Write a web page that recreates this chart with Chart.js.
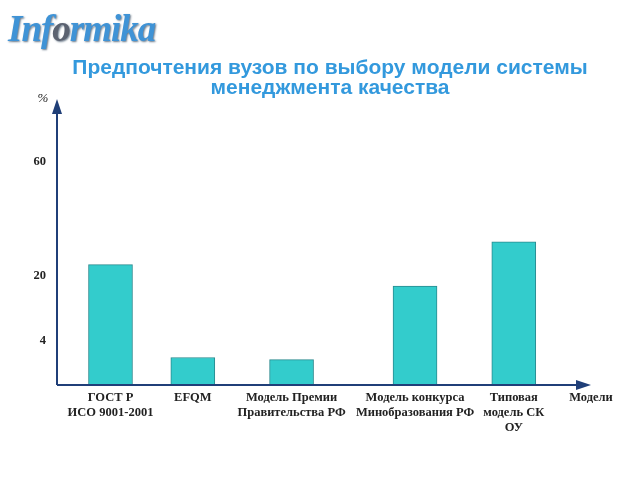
<!DOCTYPE html>
<html>
<head>
<meta charset="utf-8">
<script src="https://cdn.jsdelivr.net/npm/chart.js@4/dist/chart.umd.min.js"></script>
<style>
  body { margin: 0; background: #fff; }
  #wrap { position: relative; width: 640px; height: 480px; }
  #logo {
    position: absolute; left: 8px; top: 7px;
    font: italic bold 37px "Liberation Serif", serif;
    color: #3f93d6; letter-spacing: -1px;
    text-shadow: 1px 1px 2px #6a7a8a;
  }
  #logo span { color: #5b6270; }
  #title {
    position: absolute; left: 0; top: 57px; width: 660px; text-align: center;
    font: bold 21px "Liberation Sans", Arial, sans-serif; line-height: 20px;
    color: #3399dd;
  }
</style>
</head>
<body>
<div id="wrap">
  <div id="logo">Inf<span>o</span>rmika</div>
  <div id="title">Предпочтения вузов по выбору модели системы<br>менеджмента качества</div>
  <canvas id="myChart" width="640" height="480"></canvas>
</div>
<script>
// модели и доли вузов (%)
const categories = [
    ['ГОСТ Р', 'ИСО 9001-2001'],
    ['EFQM'],
    ['Модель Премии', 'Правительства РФ'],
    ['Модель конкурса', 'Минобразования РФ'],
    ['Типовая', 'модель СК', 'ОУ']
];
const values = [24, 2.5, 2.3, 17.5, 32];
const yTicks = [4, 20, 60];

// ось Y в исходнике не линейная: деления 4, 20, 60 стоят на своих местах
const yBreakValues = [0, 4, 20, 60, 82];
const yBreakFractions = [0, 0.154, 0.381, 0.781, 1];

// места столбцов на оси X (слоты категорий, расставлены неравномерно)
const slotCount = 66;
const slotOf = [6, 16, 28, 43, 55];

class PiecewiseScale extends Chart.LinearScale {
    getPixelForValue(value) {
        let f = 0;
        for (let i = 1; i < yBreakValues.length; i++) {
            if (value <= yBreakValues[i] || i === yBreakValues.length - 1) {
                const a = yBreakValues[i - 1], b = yBreakValues[i];
                f = yBreakFractions[i - 1] + (value - a) / (b - a) * (yBreakFractions[i] - yBreakFractions[i - 1]);
                break;
            }
        }
        return this.getPixelForDecimal(f);
    }
    getValueForPixel(pixel) {
        const f = this.getDecimalForPixel(pixel);
        for (let i = 1; i < yBreakFractions.length; i++) {
            if (f <= yBreakFractions[i] || i === yBreakFractions.length - 1) {
                const a = yBreakFractions[i - 1], b = yBreakFractions[i];
                return yBreakValues[i - 1] + (f - a) / (b - a) * (yBreakValues[i] - yBreakValues[i - 1]);
            }
        }
    }
}
PiecewiseScale.id = 'piecewise';
PiecewiseScale.defaults = Chart.LinearScale.defaults;
Chart.register(PiecewiseScale);

const labels = [];
const data = [];
for (let i = 0; i < slotCount; i++) {
    const k = slotOf.indexOf(i);
    labels.push(k >= 0 ? categories[k] : '');
    data.push(k >= 0 ? values[k] : null);
}

const axisColor = '#203f78';

const axesPlugin = {
    id: 'axes',
    afterDraw(chart) {
        const ctx = chart.ctx;
        const a = chart.chartArea;
        const x0 = a.left, y0 = a.bottom;
        const xEnd = 591;
        ctx.save();
        ctx.strokeStyle = axisColor;
        ctx.fillStyle = axisColor;
        ctx.lineWidth = 2;
        ctx.beginPath();
        ctx.moveTo(x0, y0);
        ctx.lineTo(x0, a.top + 12);
        ctx.moveTo(x0, y0);
        ctx.lineTo(xEnd - 12, y0);
        ctx.stroke();
        // стрелки
        ctx.beginPath();
        ctx.moveTo(x0, a.top);
        ctx.lineTo(x0 - 5, a.top + 15);
        ctx.lineTo(x0 + 5, a.top + 15);
        ctx.closePath();
        ctx.fill();
        ctx.beginPath();
        ctx.moveTo(xEnd, y0);
        ctx.lineTo(xEnd - 15, y0 - 5);
        ctx.lineTo(xEnd - 15, y0 + 5);
        ctx.closePath();
        ctx.fill();
        // подписи осей
        ctx.fillStyle = '#222';
        ctx.textAlign = 'center';
        ctx.textBaseline = 'middle';
        ctx.font = 'italic 13px "Liberation Serif", serif';
        ctx.fillText('%', x0 - 14, a.top);
        ctx.font = 'bold 12.5px "Liberation Serif", serif';
        ctx.fillText('Модели', xEnd, y0 + 13);
        ctx.restore();
    }
};

const config = {
    type: 'bar',
    data: {
        labels: labels,
        datasets: [{
            data: data,
            backgroundColor: '#33cccc',
            borderColor: '#2a8a8f',
            borderWidth: 1,
            barThickness: 44,
        }]
    },
    options: {
        responsive: false,
        animation: false,
        layout: { padding: { top: 99, right: 39.8, left: 0, bottom: 0 } },
        plugins: {
            legend: { display: false },
            tooltip: { enabled: false },
        },
        scales: {
            x: {
                grid: { display: false, drawTicks: false },
                border: { display: false },
                afterFit: s => { s.height = 95; },
                ticks: {
                    autoSkip: false,
                    maxRotation: 0,
                    minRotation: 0,
                    padding: 5,
                    color: '#222',
                    font: { family: '"Liberation Serif", serif', size: 12.5, weight: 'bold', lineHeight: 1.2 },
                }
            },
            y: {
                type: 'piecewise',
                min: 0,
                max: 82,
                grid: { display: false, drawTicks: false },
                border: { display: false },
                afterFit: s => { s.width = 57; },
                afterBuildTicks: s => { s.ticks = yTicks.map(v => ({ value: v })); },
                ticks: {
                    padding: 11,
                    color: '#222',
                    font: { family: '"Liberation Serif", serif', size: 12.5, weight: 'bold' },
                }
            }
        }
    },
    plugins: [axesPlugin]
};

const ctx = document.getElementById('myChart').getContext('2d');
new Chart(ctx, config);
</script>
</body>
</html>
